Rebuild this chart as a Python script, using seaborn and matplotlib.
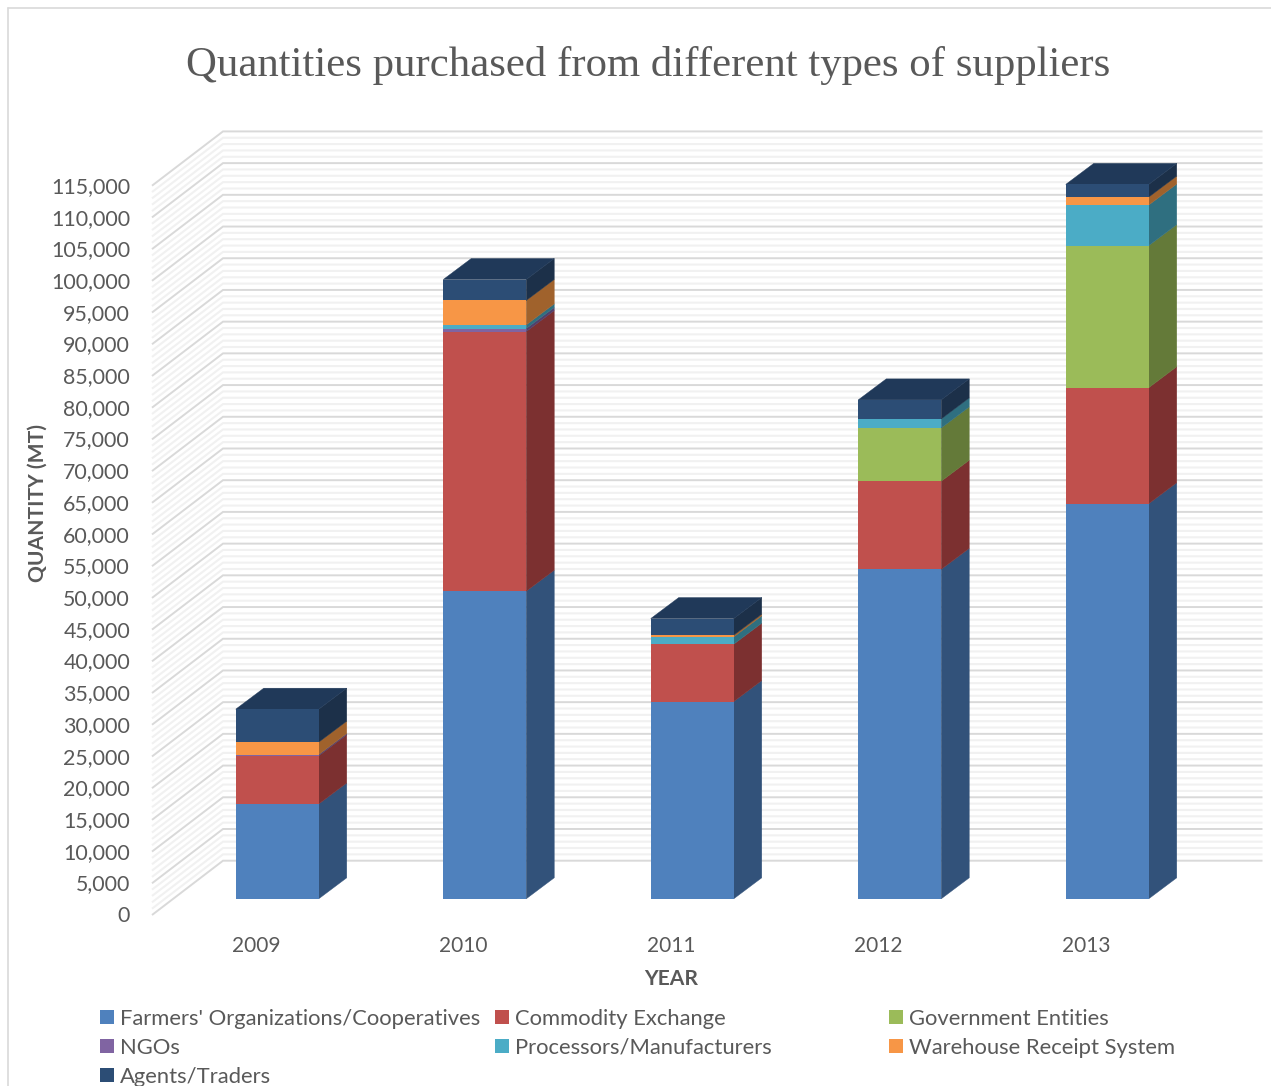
import numpy as np
import pandas as pd
import seaborn as sns
import matplotlib
matplotlib.use("Agg")
import matplotlib.pyplot as plt
from matplotlib.lines import Line2D
from matplotlib.patches import Patch, Polygon
from matplotlib.transforms import Affine2D

# Purchased quantities in metric tonnes, by supplier type
years = ["2009", "2010", "2011", "2012", "2013"]
farmers = [14950, 48500, 31100, 51950, 62300]
commodity = [7600, 40950, 9050, 13900, 18300]
government = [0, 0, 0, 8400, 22400]
ngos = [200, 470, 0, 0, 0]
processors = [0, 580, 1150, 1420, 6400]
warehouse = [1950, 3850, 270, 0, 1250]
agents = [5200, 3300, 2620, 3000, 2000]

series_names = [
    "Farmers' Organizations/Cooperatives", "Commodity Exchange",
    "Government Entities", "NGOs", "Processors/Manufacturers",
    "Warehouse Receipt System", "Agents/Traders",
]
series_values = [farmers, commodity, government, ngos, processors, warehouse, agents]
front_colors = ["#4f81bd", "#c0504d", "#9bbb59", "#8064a2", "#4bacc6", "#f79646", "#2c4d75"]
side_colors = ["#32527a", "#7c3030", "#647a39", "#523f6a", "#2f6f80", "#a0622c", "#1c3049"]
top_color = "#203959"

y_ticks = list(range(0, 115001, 5000))
y_minor = [v for v in range(0, 115001, 1000) if v % 5000]

W, H = 1271, 1086
AX_LEFT, AX_WIDTH = 152, 1037.5
AX_BOTTOM, AX_HEIGHT = 915, 729.3
TEXT = "#595959"

sns.set_theme(style="white")
plt.rcParams["font.family"] = ["Lato", "DejaVu Sans"]

fig = plt.figure(figsize=(W / 100, H / 100), dpi=100, facecolor="white")
ax = fig.add_axes([AX_LEFT / W, 1 - AX_BOTTOM / H, AX_WIDTH / W, AX_HEIGHT / H])
ax.patch.set_alpha(0)

x_per_px = len(years) / AX_WIDTH
y_per_px = 115000 / AX_HEIGHT

# Stacked front faces, lifted off the front plane onto the chart floor
bar_plane = Affine2D().translate(21.5, 16.2)
bar_width = 0.4
base = np.zeros(len(years))
for name, values, color in zip(series_names, series_values, front_colors):
    before = len(ax.patches)
    sns.barplot(x=years, y=values, bottom=base, color=color, saturation=1,
                width=bar_width, errorbar=None, linewidth=0, ax=ax, zorder=4)
    for bar in ax.patches[before:]:
        bar.set_transform(ax.transData + bar_plane)
        bar.set_clip_on(False)
    base = base + np.array(values)

# Side and top faces of each column
depth_x, depth_y = 28 * x_per_px, 21 * y_per_px
for i in range(len(years)):
    right = i + bar_width / 2
    left = i - bar_width / 2
    bottom = 0
    for values, color in zip(series_values, side_colors):
        top = bottom + values[i]
        if values[i] > 0:
            ax.add_patch(Polygon(
                [(right, bottom), (right + depth_x, bottom + depth_y),
                 (right + depth_x, top + depth_y), (right, top)],
                closed=True, facecolor=color, edgecolor=color, lw=0.3, zorder=3,
                transform=ax.transData + bar_plane, clip_on=False))
        bottom = top
    ax.add_patch(Polygon(
        [(left, bottom), (left + depth_x, bottom + depth_y),
         (right + depth_x, bottom + depth_y), (right, bottom)],
        closed=True, facecolor=top_color, edgecolor=top_color, lw=0.3, zorder=3,
        transform=ax.transData + bar_plane, clip_on=False))

# Side wall and back wall gridlines
wall_x, wall_y = 71 * x_per_px, 54.3 * y_per_px
x0, x1 = -0.5, len(years) - 0.5
wall_end = x1 + wall_x + 2 * x_per_px
for levels, color, width, z in [(y_minor, "#f1f1f1", 1.5, 1), (y_ticks, "#d9d9d9", 1.4, 2)]:
    for v in levels:
        ax.plot([x0, x0 + wall_x, wall_end], [v, v + wall_y, v + wall_y],
                color=color, lw=width, clip_on=False, zorder=z,
                solid_joinstyle="miter", solid_capstyle="butt")

ax.set_xlim(x0, x1)
ax.set_ylim(0, 115000)
ax.set_yticks(y_ticks)
ax.set_yticklabels([f"{v:,}" for v in y_ticks])
ax.tick_params(axis="y", length=0, pad=15.8, labelsize=15.4, labelcolor=TEXT)
ax.tick_params(axis="x", length=0, pad=15.2, labelsize=15, labelcolor=TEXT)
ax.set_xlabel("")
ax.set_ylabel("")
sns.despine(ax=ax, left=True, bottom=True)
label_nudge = Affine2D().translate(0.4, 0)
for lbl in ax.get_xticklabels():
    lbl.set_transform(lbl.get_transform() + label_nudge)
y_nudge = Affine2D().translate(0, 0.8)
for lbl in ax.get_yticklabels():
    lbl.set_transform(lbl.get_transform() + y_nudge)

fig.text(38 / W, 1 - 502.5 / H, "QUANTITY (MT)", rotation=90, ha="center", va="center",
         fontsize=15.1, fontweight="bold", color=TEXT)
fig.text(671 / W, 1 - 979 / H, "YEAR", ha="center", va="center",
         fontsize=15.1, fontweight="bold", color=TEXT)
fig.text(648 / W, 1 - 65.5 / H, "Quantities purchased from different types of suppliers",
         ha="center", va="center", fontsize=30.75, color=TEXT, family="Liberation Serif")

# Legend columns sit at fixed offsets, so each one is its own legend
columns = [(96, [0, 3, 6]), (491, [1, 4]), (885, [2, 5])]
for left_px, members in columns:
    handles = [Patch(facecolor=front_colors[m], edgecolor="none") for m in members]
    labels = [series_names[m] for m in members]
    fig.legend(handles, labels, loc="upper left",
               bbox_to_anchor=(left_px / W, 1 - 1004.5 / H), frameon=False,
               fontsize=15.85, labelcolor=TEXT, handlelength=0.64, handleheight=0.64,
               handletextpad=0.27, labelspacing=0.4, borderpad=0.2, borderaxespad=0)

# Chart frame
for xs, ys in [((8, 8), (8, H)), ((8, W), (8, 8))]:
    fig.add_artist(Line2D([x / W for x in xs], [1 - y / H for y in ys],
                          color="#d9d9d9", lw=1.2, transform=fig.transFigure))

fig.savefig("out.png", dpi=100)
